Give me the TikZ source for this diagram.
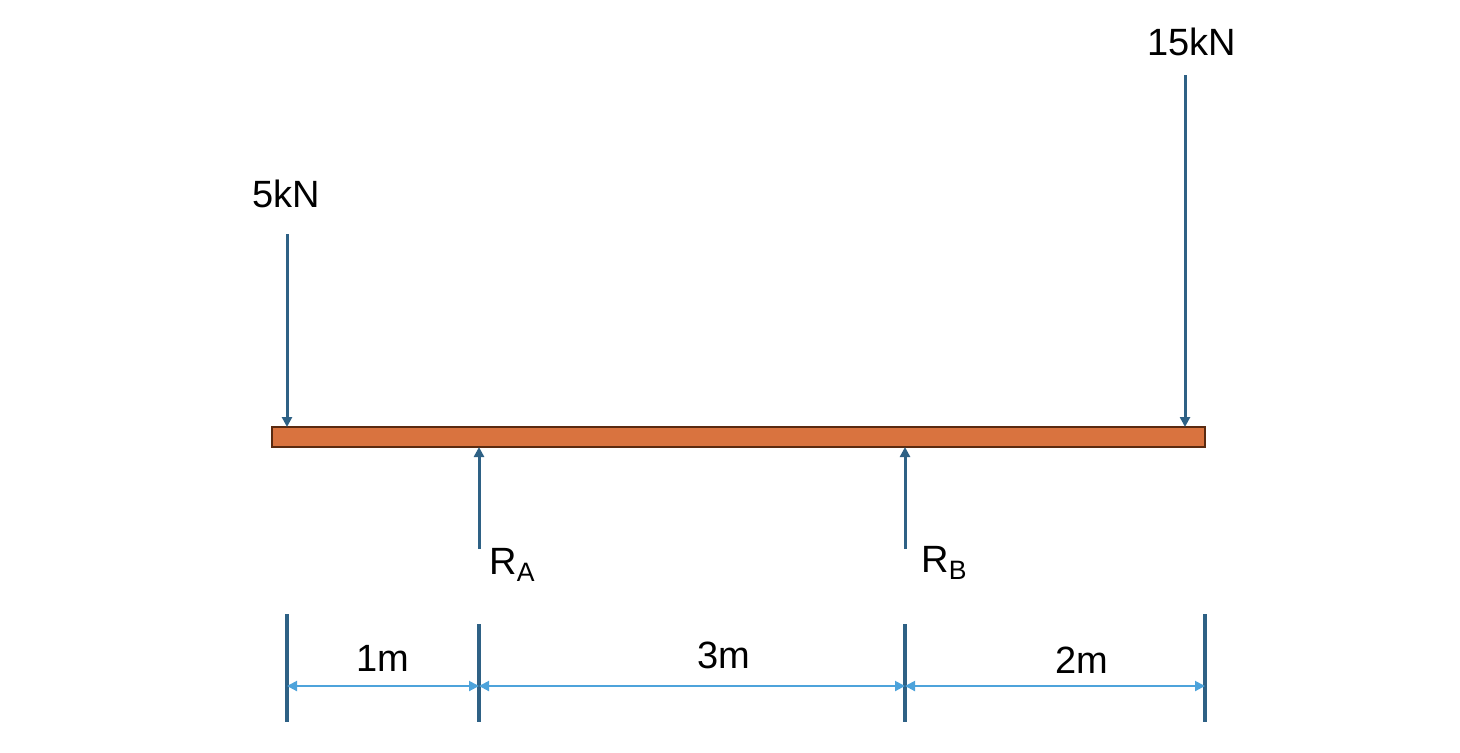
\documentclass[tikz,border=0pt]{standalone}
\usepackage{fontspec}
\setmainfont{Liberation Sans}
\usetikzlibrary{arrows.meta}
\definecolor{beamfill}{HTML}{D9733F}
\definecolor{beamdraw}{HTML}{5A2A10}
\definecolor{force}{HTML}{2E6185}
\definecolor{dim}{HTML}{4DA3DB}
\begin{document}
\begin{tikzpicture}[x=0.5pt,y=-0.5pt,
  load/.style={force,line width=1.5pt,-{Triangle[length=5pt,width=5pt]}},
  tick/.style={force,line width=1.6pt},
  dimline/.style={dim,line width=1pt,{Triangle[length=5pt,width=5pt]}-{Triangle[length=5pt,width=5pt]}},
  lbl/.style={font=\fontsize{19}{22}\selectfont,inner sep=0pt}]
\useasboundingbox (0,0) rectangle (1460,752);
\node[draw=beamdraw,fill=beamfill,line width=1pt,minimum width=466.5pt,minimum height=10pt,inner sep=0pt] (beam) at (738.5,437) {};
% loads
\coordinate (f1s) at (287,234); \coordinate (f1e) at (287,427);
\coordinate (f2s) at (1185,75); \coordinate (f2e) at (1185,427);
\draw[load] (f1s) -- (f1e);
\draw[load] (f2s) -- (f2e);
\node[lbl] (l5) at (286,194) {5kN};
\node[lbl] (l15) at (1192,42) {15kN};
% reactions
\coordinate (ras) at (479,549); \coordinate (rae) at (479,447);
\coordinate (rbs) at (905,549); \coordinate (rbe) at (905,447);
\draw[load] (ras) -- (rae);
\draw[load] (rbs) -- (rbe);
\node[lbl,anchor=west] (ra) at (489,565) {R\textsubscript{A}};
\node[lbl,anchor=west] (rb) at (921,563) {R\textsubscript{B}};
% dimension ticks
\coordinate (t1a) at (287,614); \coordinate (t1b) at (287,722);
\coordinate (t2a) at (479,624); \coordinate (t2b) at (479,722);
\coordinate (t3a) at (905,624); \coordinate (t3b) at (905,722);
\coordinate (t4a) at (1205,614); \coordinate (t4b) at (1205,722);
\foreach \t in {1,2,3,4} \draw[tick] (t\t a) -- (t\t b);
\coordinate (d1) at (287,686); \coordinate (d2) at (479,686);
\coordinate (d3) at (905,686); \coordinate (d4) at (1205,686);
\draw[dimline] (d1) -- (d2);
\draw[dimline] (d2) -- (d3);
\draw[dimline] (d3) -- (d4);
\node[lbl] (m1) at (383,658) {1m};
\node[lbl] (m3) at (724,655) {3m};
\node[lbl] (m2) at (1082,660) {2m};
\end{tikzpicture}
\end{document}
